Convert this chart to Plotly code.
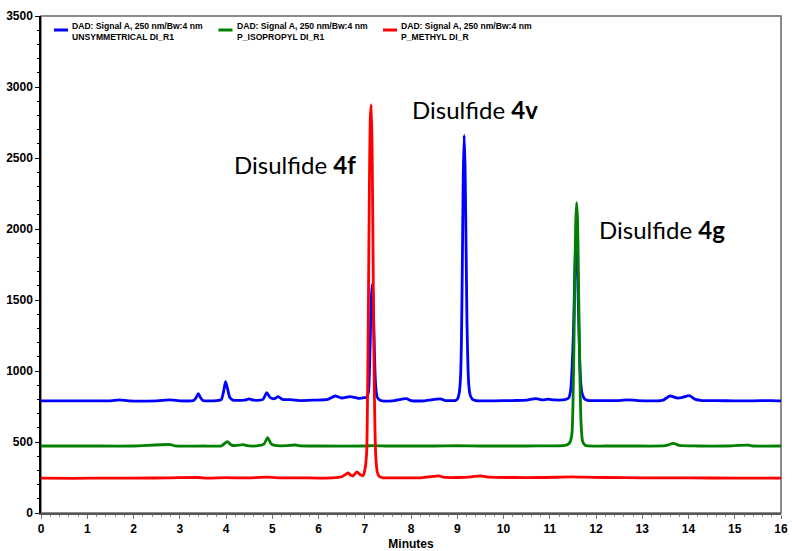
import plotly.graph_objects as go

# Retention time (min) and detector response (mAU) for each injection
blue_t = [0.0, 0.5, 1.0, 1.5, 1.7, 1.9, 2.5, 2.8, 3.0, 3.3, 3.35, 3.40, 3.45, 3.5,
          3.8, 3.9, 3.95, 3.99, 4.03, 4.08, 4.15, 4.4, 4.5, 4.6, 4.8, 4.88, 4.95,
          5.05, 5.13, 5.22, 5.4, 5.6, 5.9, 6.2, 6.36, 6.5, 6.68, 6.85, 7.0, 7.04,
          7.08, 7.10, 7.12, 7.14, 7.16, 7.18, 7.20, 7.22, 7.24, 7.27, 7.32, 7.38,
          7.6, 7.9, 8.0, 8.3, 8.63, 8.75, 8.9, 8.95, 9.00, 9.04, 9.07, 9.09, 9.11,
          9.13, 9.15, 9.17, 9.19, 9.21, 9.23, 9.25, 9.28, 9.33, 9.40, 9.8, 10.2,
          10.5, 10.7, 10.85, 10.96, 11.10, 11.35, 11.41, 11.45, 11.48, 11.51,
          11.53, 11.55, 11.57, 11.59, 11.61, 11.63, 11.65, 11.67, 11.70, 11.75,
          11.82, 12.2, 12.5, 12.7, 12.9, 13.3, 13.45, 13.6, 13.75, 13.85, 14.02,
          14.15, 14.3, 14.6, 15.0, 15.4, 15.8, 16.0]
blue_v = [790, 789, 790, 790, 797, 790, 790, 796, 790, 792, 810, 840, 812, 792,
          792, 800, 860, 925, 880, 815, 795, 795, 803, 795, 800, 848, 815,
          805, 820, 800, 798, 792, 795, 800, 824, 810, 820, 808, 812, 815,
          850, 980, 1230, 1500, 1610, 1520, 1260, 1010, 880, 815, 797, 790,
          790, 805, 792, 790, 803, 792, 792, 792, 800, 840, 950, 1200, 1750,
          2380, 2661, 2420, 1900, 1350, 1050, 900, 830, 800, 792, 790, 792,
          795, 805, 796, 802, 796, 800, 810, 860, 1000, 1250,
          1520, 1800, 1910, 1830, 1580, 1300, 1060, 920, 840, 805,
          793, 791, 792, 797, 792, 790, 795, 824, 810, 812, 826,
          800, 792, 791, 790, 790, 792, 790]

green_t = [0.0, 1.0, 2.0, 2.8, 2.9, 3.5, 3.9, 4.03, 4.12, 4.2, 4.37, 4.45, 4.7,
           4.82, 4.90, 4.97, 5.05, 5.3, 5.49, 5.6, 6.0, 7.0, 7.2, 7.5, 8.0, 8.5,
           9.0, 9.5, 10.0, 10.5, 11.0, 11.3, 11.38, 11.44, 11.48, 11.50, 11.52,
           11.54, 11.56, 11.58, 11.60, 11.62, 11.64, 11.66, 11.68, 11.71, 11.76,
           11.83, 12.2, 12.8, 13.5, 13.67, 13.8, 14.2, 14.8, 15.29, 15.4, 16.0]
green_v = [472, 472, 472, 482, 472, 472, 473, 502, 478, 474, 481, 474, 474,
           485, 530, 490, 476, 474, 479, 473, 472, 472, 475, 472, 472, 472,
           474, 472, 472, 472, 473, 474, 480, 500, 560, 740, 1100,
           1600, 2030, 2185, 2070, 1700, 1200, 830, 610, 505, 478,
           472, 472, 472, 474, 491, 476, 472, 472, 478, 472, 472]

red_t = [0.0, 0.7, 1.5, 2.0, 2.8, 3.4, 3.6, 4.0, 4.4, 4.9, 5.2, 5.6, 6.0, 6.3,
         6.5, 6.6, 6.64, 6.70, 6.75, 6.83, 6.90, 6.96, 7.00, 7.04, 7.06, 7.08,
         7.10, 7.12, 7.14, 7.16, 7.18, 7.20, 7.22, 7.24, 7.27, 7.32, 7.40, 7.8,
         8.2, 8.5, 8.6, 8.7, 9.0, 9.3, 9.5, 9.7, 10.2, 10.8, 11.5, 11.7, 12.2,
         13.0, 14.0, 15.0, 16.0]
red_v = [245, 244, 246, 245, 248, 250, 246, 249, 247, 252, 247, 248, 246, 247,
         255, 275, 283, 265, 262, 290, 270, 262, 300, 420, 800, 1500,
         2300, 2780, 2875, 2550, 1800, 1050, 600, 390, 290, 255, 248, 248,
         248, 258, 262, 252, 250, 254, 262, 252, 250, 250, 254, 252, 250,
         248, 247, 246, 245]

legend_line1 = "DAD: Signal A, 250 nm/Bw:4 nm"
names = ["UNSYMMETRICAL DI_R1", "P_ISOPROPYL DI_R1", "P_METHYL DI_R"]
colors = ["#0000FF", "#008000", "#FF0000"]

peak_labels = ["4f", "4v", "4g"]
label_x = [4.14, 7.97, 12.03]
label_y = [2455, 2845, 1995]

W, H = 792, 551
L, R, T, B = 41, 11, 16, 38
pw, ph = W - L - R, H - T - B

fig = go.Figure()
for t, v, c, n in zip([blue_t, green_t, red_t], [blue_v, green_v, red_v], colors, names):
    fig.add_trace(go.Scatter(x=t, y=v, mode="lines", name=n, showlegend=False,
                             line=dict(color=c, width=2.8, shape="spline", smoothing=0.6)))

# Peak annotations
for lab, x, y in zip(peak_labels, label_x, label_y):
    fig.add_annotation(x=x, y=y, xref="x", yref="y", xanchor="left", yanchor="middle",
                       text=f"Disulfide <b>{lab}</b>", showarrow=False,
                       font=dict(family="Lato, Carlito, Arial", size=24, color="black"))

# Legend drawn as swatches plus two-line captions
cap_font = "Arial, Liberation Sans"
for i, (n, c) in enumerate(zip(names, colors)):
    x0 = 54 + 164.5 * i
    fig.add_shape(type="line", xref="paper", yref="paper",
                  x0=(x0 - L) / pw, x1=(x0 + 14 - L) / pw,
                  y0=(H - B - 30) / ph, y1=(H - B - 30) / ph,
                  line=dict(color=c, width=3))
    fig.add_annotation(xref="paper", yref="paper", x=(x0 + 16 - L) / pw,
                       y=(H - B - 32) / ph, xanchor="left", yanchor="middle",
                       align="left", showarrow=False,
                       text=f"<b>{legend_line1}<br>{n}</b>",
                       font=dict(family=cap_font, size=8.6, color="black"))

# Plot frame
fig.add_shape(type="rect", xref="paper", yref="paper", x0=0, x1=1, y0=0, y1=1,
              line=dict(color="#666666", width=1.5), layer="below")

fig.update_layout(
    width=W, height=H,
    margin=dict(l=L, r=R, t=T, b=B, autoexpand=False),
    plot_bgcolor="white", paper_bgcolor="white",
    showlegend=False,
    xaxis=dict(range=[0, 16], dtick=1, tick0=0, showgrid=False, zeroline=False,
               automargin=False,
               showline=True, linecolor="#555555", linewidth=1.5,
               ticks="outside", ticklen=4, tickcolor="#777777",
               minor=dict(dtick=0.2, ticklen=2, tickcolor="#999999", ticks="outside"),
               tickfont=dict(family="Arial, Liberation Sans", size=12, color="black", weight="bold"),
               title=dict(text="<b>Minutes</b>", standoff=4,
                          font=dict(family="Arial, Liberation Sans", size=12, color="black"))),
    yaxis=dict(range=[0, 3500], dtick=500, tick0=0, showgrid=False, zeroline=False,
               automargin=False,
               showline=True, linecolor="black", linewidth=1.5,
               ticks="outside", ticklen=4, tickcolor="black",
               minor=dict(dtick=100, ticklen=2, tickcolor="black", ticks="outside"),
               tickfont=dict(family="Arial, Liberation Sans", size=12, color="black", weight="bold")),
)

fig.write_html("out.html")
